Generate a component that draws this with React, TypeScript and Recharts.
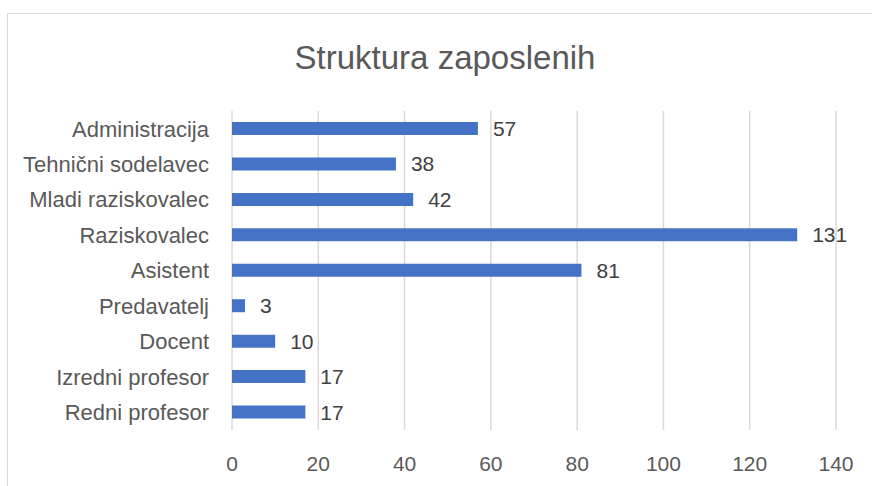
// Struktura zaposlenih — horizontal bar chart

import { BarChart, Bar, XAxis, YAxis, CartesianGrid, LabelList } from 'recharts'

const categories = [
  'Administracija',
  'Tehnični sodelavec',
  'Mladi raziskovalec',
  'Raziskovalec',
  'Asistent',
  'Predavatelj',
  'Docent',
  'Izredni profesor',
  'Redni profesor',
]
const counts = [57, 38, 42, 131, 81, 3, 10, 17, 17]
const xTicks = [0, 20, 40, 60, 80, 100, 120, 140]

const data = categories.map((name, i) => ({ name, value: counts[i] }))

const FONT = '"Liberation Sans", Arial, sans-serif'

export default function App() {
  return (
    <div
      style={{
        position: 'fixed',
        left: 7,
        top: 13,
        width: 865,
        height: 473,
        boxSizing: 'border-box',
        borderLeft: '1px solid #d9d9d9',
        borderTop: '1px solid #d9d9d9',
        background: '#fff',
        fontFamily: FONT,
      }}
    >
      <div
        style={{
          position: 'absolute',
          left: 0,
          top: 24,
          width: 874,
          textAlign: 'center',
          fontSize: 33,
          color: '#595959',
          lineHeight: '40px',
        }}
      >
        Struktura zaposlenih
      </div>
      <div style={{ position: 'absolute', left: 0, top: 0 }}>
        <BarChart
          width={864}
          height={472}
          data={data}
          layout="vertical"
          margin={{ top: 97, right: 36, bottom: 20, left: 0 }}
        >
          <CartesianGrid horizontal={false} stroke="#d9d9d9" strokeWidth={1.5} />
          <XAxis
            type="number"
            domain={[0, 140]}
            ticks={xTicks}
            axisLine={false}
            tickLine={false}
            tickSize={0}
            tickMargin={26}
            height={36}
            tick={{ fill: '#595959', fontSize: 21, fontFamily: FONT }}
          />
          <YAxis
            type="category"
            dataKey="name"
            width={224}
            axisLine={false}
            tickLine={false}
            tickSize={0}
            tickMargin={23}
            interval={0}
            tick={{ fill: '#595959', fontSize: 22, fontFamily: FONT }}
          />
          <Bar dataKey="value" fill="#4472c4" barSize={13} isAnimationActive={false}>
            <LabelList
              dataKey="value"
              position="right"
              offset={15}
              fill="#404040"
              fontSize={21}
              fontFamily={FONT}
            />
          </Bar>
        </BarChart>
      </div>
    </div>
  )
}
